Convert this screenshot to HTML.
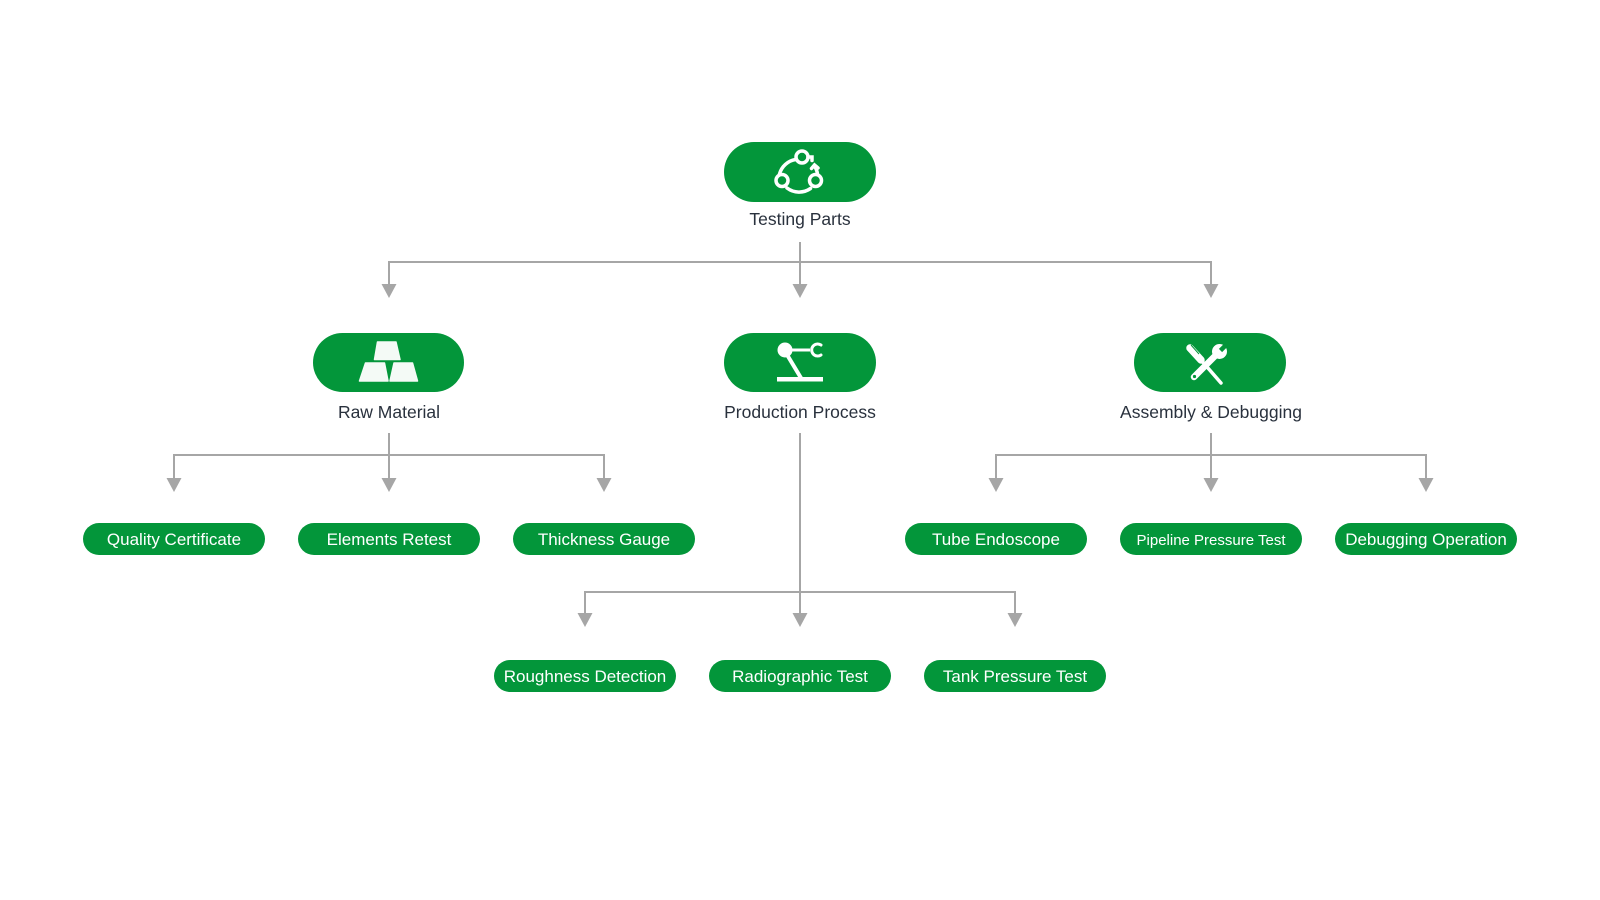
<!DOCTYPE html>
<html>
<head>
<meta charset="utf-8">
<style>
  html,body{margin:0;padding:0;background:#ffffff;}
  svg{display:block;}
  text{font-family:"Liberation Sans", sans-serif;}
</style>
</head>
<body>
<svg width="1600" height="900" viewBox="0 0 1600 900" xmlns="http://www.w3.org/2000/svg">
  <rect width="1600" height="900" fill="#ffffff"/>

  <!-- connectors -->
  <g stroke="#a6a6a6" stroke-width="2" fill="none">
    <line x1="800" y1="242" x2="800" y2="286"/>
    <polyline points="389,286 389,262 1211,262 1211,286"/>
    <line x1="389" y1="433" x2="389" y2="479"/>
    <polyline points="174,479 174,455 604,455 604,479"/>
    <line x1="1211" y1="433" x2="1211" y2="479"/>
    <polyline points="996,479 996,455 1426,455 1426,479"/>
    <line x1="800" y1="433" x2="800" y2="614"/>
    <polyline points="585,614 585,592 1015,592 1015,614"/>
  </g>
  <g fill="#a6a6a6">
    <polygon points="381.5,284 396.5,284 389,298"/>
    <polygon points="792.5,284 807.5,284 800,298"/>
    <polygon points="1203.5,284 1218.5,284 1211,298"/>

    <polygon points="166.5,478 181.5,478 174,492"/>
    <polygon points="381.5,478 396.5,478 389,492"/>
    <polygon points="596.5,478 611.5,478 604,492"/>

    <polygon points="988.5,478 1003.5,478 996,492"/>
    <polygon points="1203.5,478 1218.5,478 1211,492"/>
    <polygon points="1418.5,478 1433.5,478 1426,492"/>

    <polygon points="577.5,613 592.5,613 585,627"/>
    <polygon points="792.5,613 807.5,613 800,627"/>
    <polygon points="1007.5,613 1022.5,613 1015,627"/>
  </g>

  <!-- top node -->
  <rect x="724" y="142" width="152" height="60" rx="30" fill="#03963a"/>
  <g stroke="#ffffff" stroke-width="3.5" fill="none" stroke-linecap="round">
    <circle cx="802" cy="157" r="6"/>
    <circle cx="782" cy="180.5" r="6"/>
    <circle cx="815.5" cy="180.5" r="6"/>
    <path d="M795.5 159.5 A20 20 0 0 0 779.5 174"/>
    <path d="M787 188 A20 20 0 0 0 810.5 188.5"/>
    <path d="M817.5 174 A20 20 0 0 0 814.5 166"/>
    <path d="M811.5 168.5 L814.5 165 L818 168"/>
    <path d="M808 157 L812 157 L812 160.5"/>
  </g>
  <text x="800" y="225" font-size="17.5" fill="#29313d" text-anchor="middle">Testing Parts</text>

  <!-- Raw Material -->
  <rect x="313" y="333" width="151" height="59" rx="29.5" fill="#03963a"/>
  <g fill="#f4faf6" stroke="#f4faf6" stroke-width="1.5" stroke-linejoin="round">
    <polygon points="377.5,342 396,342 400,359.5 374.5,359.5"/>
    <polygon points="365.5,363 384.5,363 388,381 359.5,381"/>
    <polygon points="394,363 412.5,363 417.5,381 390,381"/>
  </g>
  <text x="389" y="418" font-size="17.5" fill="#29313d" text-anchor="middle">Raw Material</text>

  <!-- Production Process -->
  <rect x="724" y="333" width="152" height="59" rx="29.5" fill="#03963a"/>
  <g fill="#ffffff" stroke="#ffffff">
    <circle cx="785" cy="350" r="7.5" stroke="none"/>
    <line x1="785" y1="350" x2="810" y2="350" stroke-width="3"/>
    <line x1="786" y1="353" x2="801" y2="378" stroke-width="4"/>
    <rect x="777" y="377" width="46" height="4.5" stroke="none"/>
    <path d="M821 345 A6 6 0 1 0 821 355" fill="none" stroke-width="3" stroke-linecap="round"/>
  </g>
  <text x="800" y="418" font-size="17.5" fill="#29313d" text-anchor="middle">Production Process</text>

  <!-- Assembly & Debugging -->
  <rect x="1134" y="333" width="152" height="59" rx="29.5" fill="#03963a"/>
  <g stroke="#ffffff" stroke-linecap="round" fill="none">
    <line x1="1190" y1="348" x2="1201" y2="360" stroke-width="7.5"/>
    <line x1="1201" y1="360" x2="1221" y2="383" stroke-width="3.5"/>
    <line x1="1194" y1="377" x2="1215" y2="356" stroke-width="6.5"/>
  </g>
  <circle cx="1219.5" cy="351.5" r="7.5" fill="#ffffff"/>
  <line x1="1220.5" y1="350.5" x2="1228" y2="343" stroke="#03963a" stroke-width="4.5"/>
  <circle cx="1194.5" cy="376.5" r="1.6" fill="#03963a"/>
  <line x1="1191" y1="345" x2="1199" y2="354" stroke="#03963a" stroke-width="1"/>
  <text x="1211" y="418" font-size="17.5" fill="#29313d" text-anchor="middle">Assembly &amp; Debugging</text>

  <!-- leaf nodes -->
  <g fill="#03963a">
    <rect x="83" y="523" width="182" height="32" rx="16"/>
    <rect x="298" y="523" width="182" height="32" rx="16"/>
    <rect x="513" y="523" width="182" height="32" rx="16"/>
    <rect x="905" y="523" width="182" height="32" rx="16"/>
    <rect x="1120" y="523" width="182" height="32" rx="16"/>
    <rect x="1335" y="523" width="182" height="32" rx="16"/>

    <rect x="494" y="660" width="182" height="32" rx="16"/>
    <rect x="709" y="660" width="182" height="32" rx="16"/>
    <rect x="924" y="660" width="182" height="32" rx="16"/>
  </g>
  <g fill="#ffffff" text-anchor="middle" font-size="17">
    <text x="174" y="545">Quality Certificate</text>
    <text x="389" y="545">Elements Retest</text>
    <text x="604" y="545">Thickness Gauge</text>
    <text x="996" y="545">Tube Endoscope</text>
    <text x="1211" y="545" font-size="15">Pipeline Pressure Test</text>
    <text x="1426" y="545">Debugging Operation</text>

    <text x="585" y="682">Roughness Detection</text>
    <text x="800" y="682">Radiographic Test</text>
    <text x="1015" y="682">Tank Pressure Test</text>
  </g>
</svg>
</body>
</html>
